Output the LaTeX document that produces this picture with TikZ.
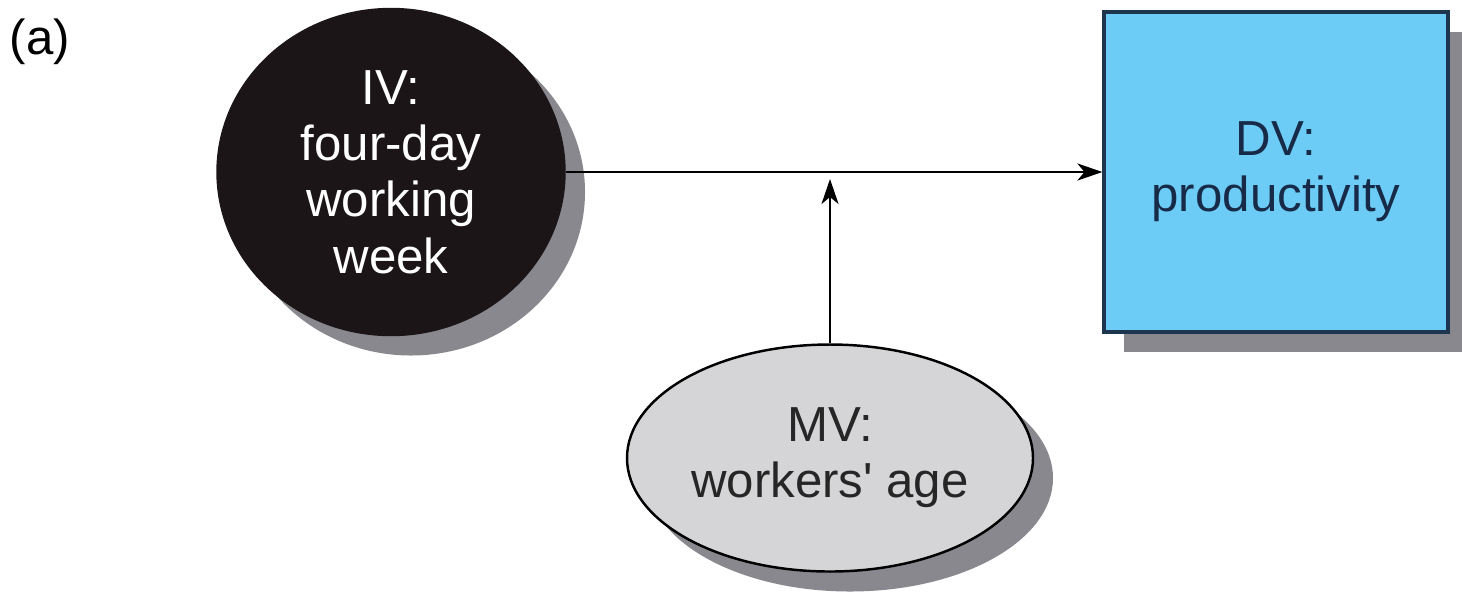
\documentclass[tikz,border=0pt]{standalone}
\usepackage{fontspec}
\setmainfont{Liberation Sans}
\newfontfamily\plainsans{Liberation Sans}
\usetikzlibrary{shapes.geometric,arrows.meta,shadows}
\definecolor{ivfill}{HTML}{1B1517}
\definecolor{dvfill}{HTML}{6CCCF5}
\definecolor{dvline}{HTML}{1E3550}
\definecolor{dvtext}{HTML}{172A48}
\definecolor{mvfill}{HTML}{D5D5D7}
\definecolor{shadowgray}{HTML}{88888E}
\tikzset{
  lbl/.style={font=\plainsans\fontsize{14}{16}\selectfont, align=center, inner sep=0pt},
  shad/.style={drop shadow={shadow xshift=0.2cm, shadow yshift=-0.2cm, fill=shadowgray, opacity=1}},
  ivnode/.style={lbl, ellipse, shad, fill=ivfill, draw=ivfill, text=white, minimum width=3.48cm, minimum height=3.27cm},
  dvnode/.style={lbl, rectangle, shad, fill=dvfill, draw=dvline, line width=0.9pt, text=dvtext, minimum width=3.44cm, minimum height=3.20cm},
  mvnode/.style={lbl, ellipse, shad, fill=mvfill, draw=black, line width=0.7pt, text=black!85, minimum width=4.06cm, minimum height=2.27cm},
  conn/.style={line width=0.7pt, -{Stealth[length=0.25cm, width=0.17cm, inset=0.07cm]}}
}
\begin{document}
\begin{tikzpicture}
\useasboundingbox (0,0) rectangle (14.62,-5.94);
\node[lbl, anchor=center] (lab) at (0.40,-0.42) {(a)};
\node[ivnode] (iv) at (3.91,-1.72) {IV:\\four-day\\working\\week};
\node[dvnode] (dv) at (12.76,-1.72) {DV:\\productivity};
\node[mvnode] (mv) at (8.30,-4.58) {MV:\\workers' age};
\coordinate (mod) at (8.30,-1.79);
\draw[conn] (iv.east) -- (dv.west);
\draw[conn] (mv.north) -- (mod);
\end{tikzpicture}
\end{document}
